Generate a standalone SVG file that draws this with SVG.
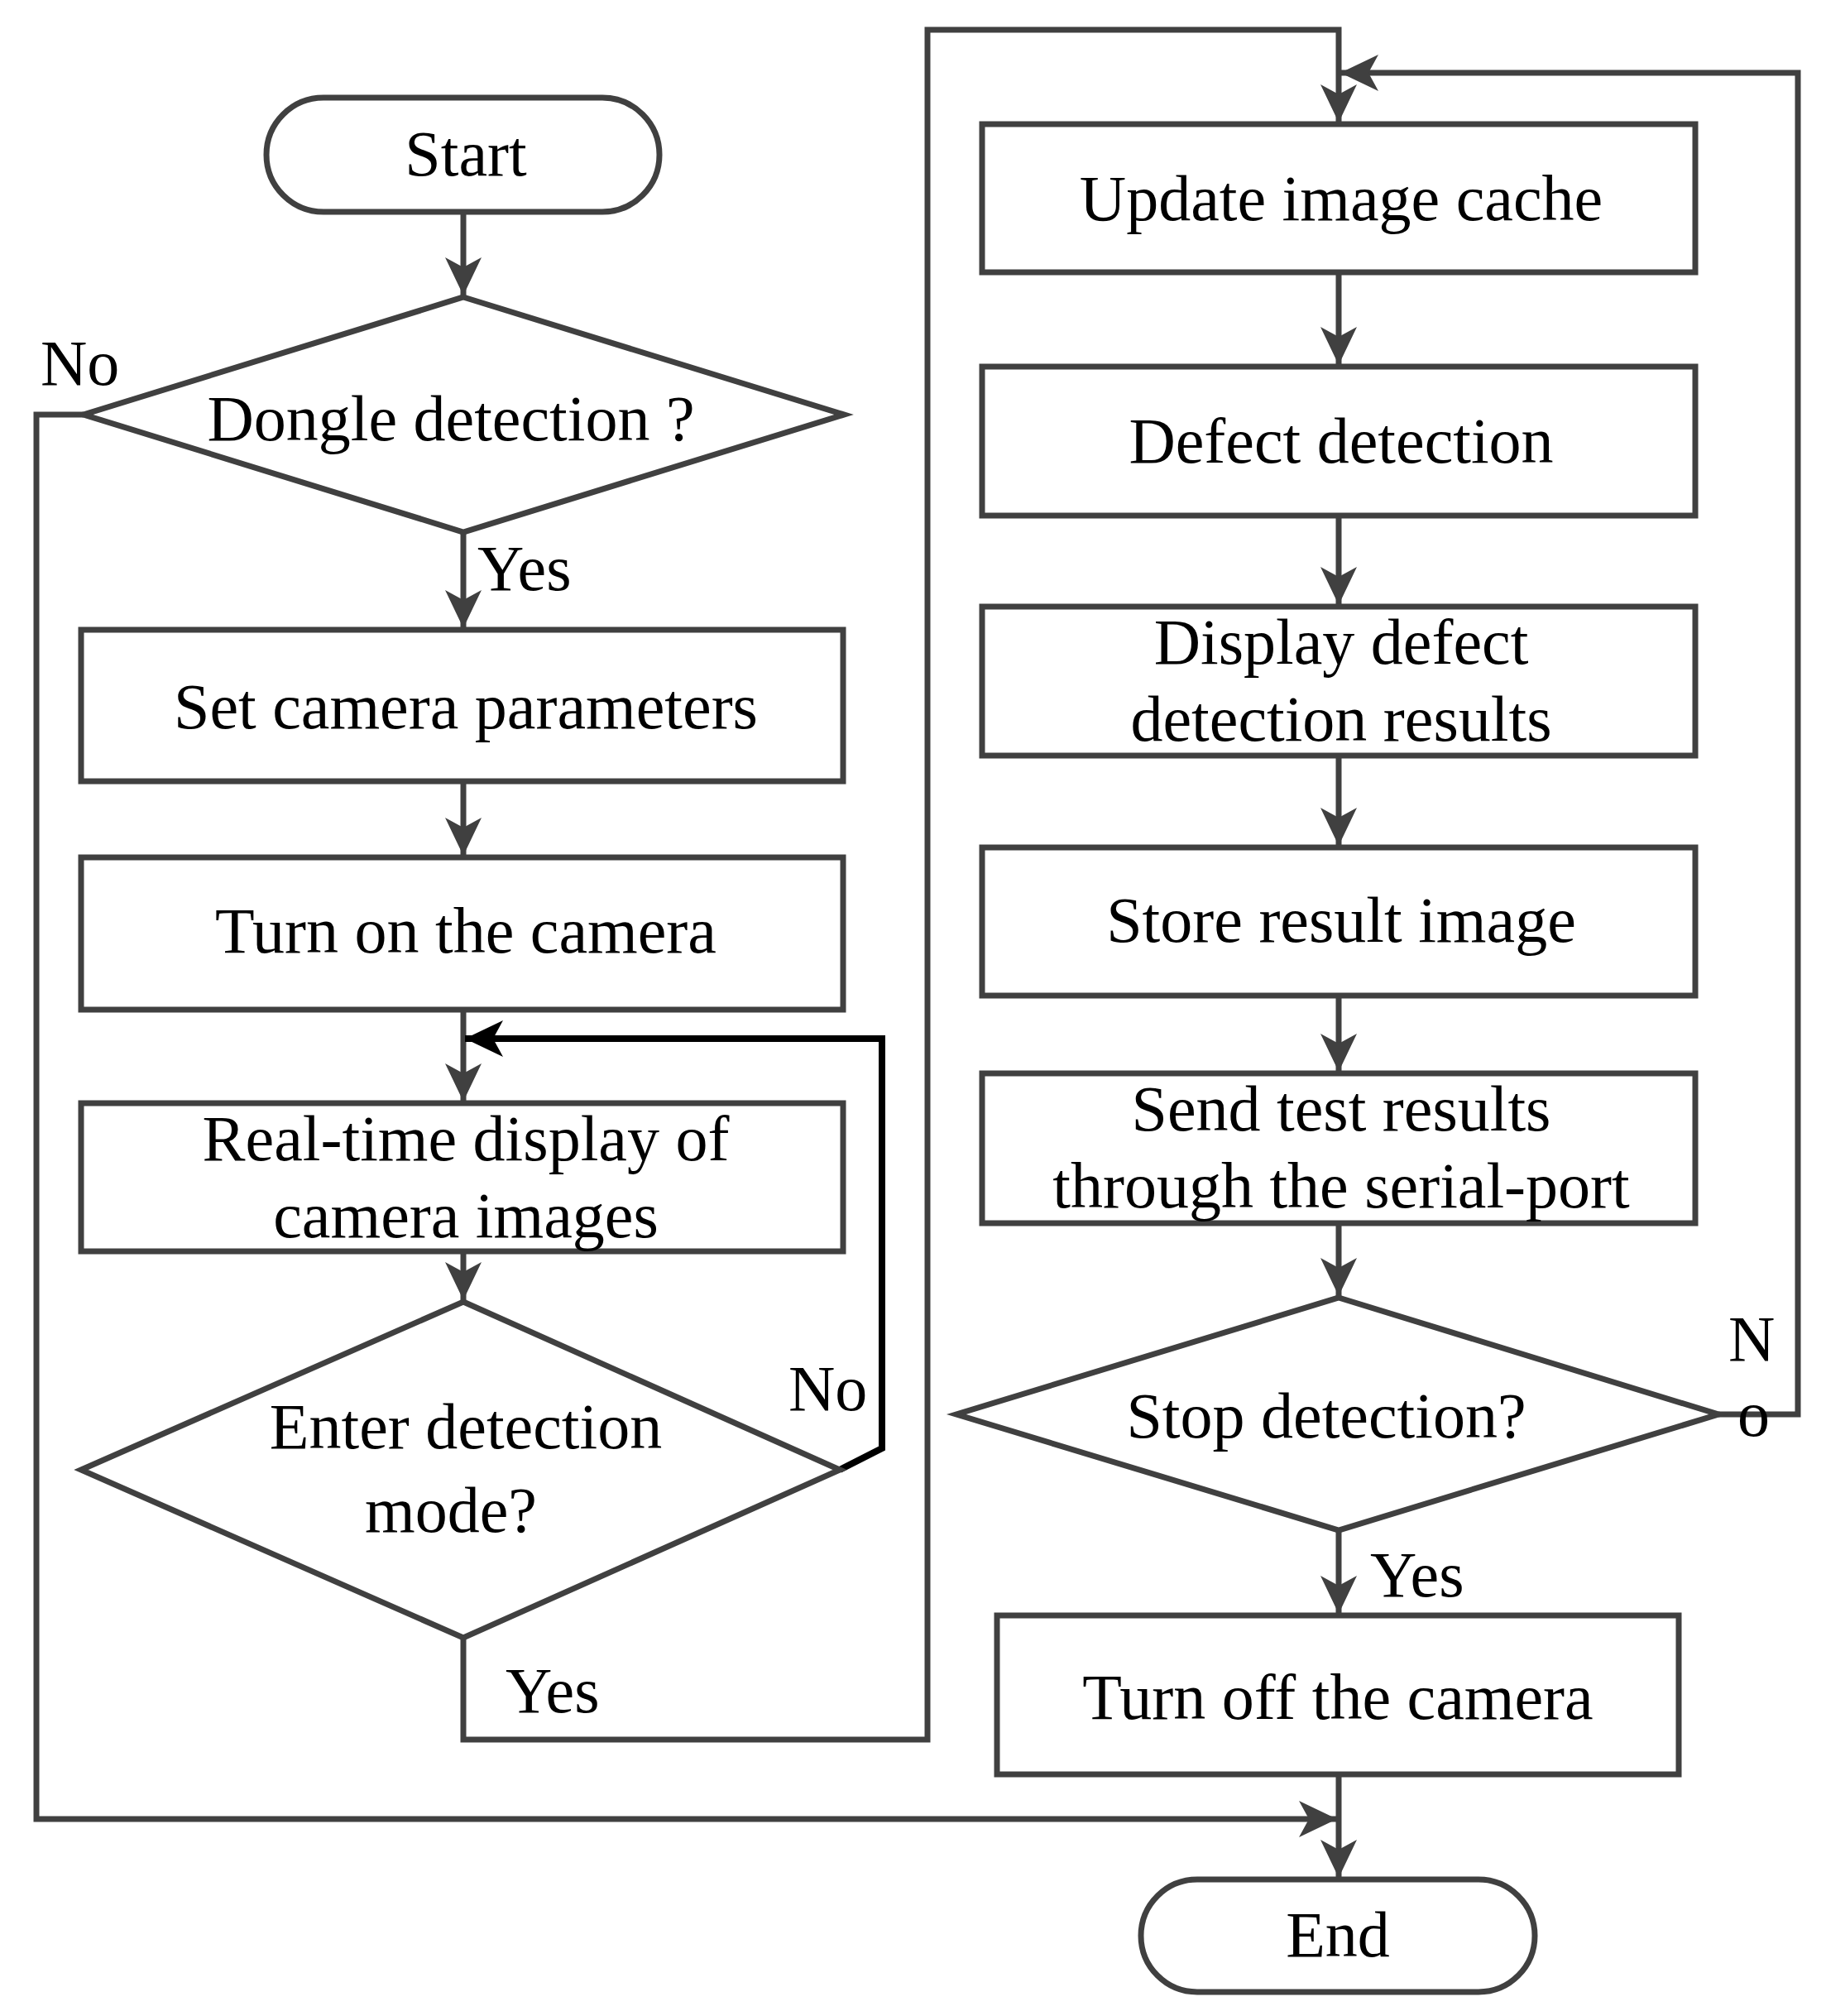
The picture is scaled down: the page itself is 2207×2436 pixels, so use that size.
<svg xmlns="http://www.w3.org/2000/svg" width="2207" height="2436" viewBox="0 0 2207 2436">
<style>
.s{fill:none;stroke:#404040;stroke-width:7;stroke-linejoin:miter}
.n{fill:#fff;stroke:#404040;stroke-width:7}
text{font-family:"Liberation Serif","DejaVu Serif",serif;font-size:78px;fill:#000}
.m{text-anchor:middle}
</style>
<defs>
<marker id="a" markerUnits="userSpaceOnUse" markerWidth="50" markerHeight="44" refX="46" refY="22" orient="auto"><path d="M0,0 L46,22 L0,44 L12,22 Z" fill="#404040"/></marker>
<marker id="b" markerUnits="userSpaceOnUse" markerWidth="50" markerHeight="44" refX="46" refY="22" orient="auto"><path d="M0,0 L46,22 L0,44 L12,22 Z" fill="#000"/></marker>
</defs>
<g id="connectors">
<line class="s" x1="560" y1="256" x2="560" y2="357" marker-end="url(#a)"/>
<line class="s" x1="560" y1="643" x2="560" y2="759" marker-end="url(#a)"/>
<line class="s" x1="560" y1="944" x2="560" y2="1034" marker-end="url(#a)"/>
<line class="s" x1="560" y1="1220" x2="560" y2="1331" marker-end="url(#a)"/>
<line class="s" x1="560" y1="1512" x2="560" y2="1571" marker-end="url(#a)"/>
<polyline points="1015,1776 1066,1750 1066,1255 562,1255" fill="none" stroke="#000" stroke-width="8" marker-end="url(#b)"/>
<polyline class="s" points="101,501 44,501 44,2198 1616,2198" marker-end="url(#a)"/>
<polyline class="s" points="560,1979 560,2102 1121,2102 1121,36 1618,36 1618,148" marker-end="url(#a)"/>
<line class="s" x1="1618" y1="329" x2="1618" y2="441" marker-end="url(#a)"/>
<line class="s" x1="1618" y1="623" x2="1618" y2="731" marker-end="url(#a)"/>
<line class="s" x1="1618" y1="913" x2="1618" y2="1022" marker-end="url(#a)"/>
<line class="s" x1="1618" y1="1203" x2="1618" y2="1295" marker-end="url(#a)"/>
<line class="s" x1="1618" y1="1478" x2="1618" y2="1566" marker-end="url(#a)"/>
<line class="s" x1="1618" y1="1849" x2="1618" y2="1950" marker-end="url(#a)"/>
<line class="s" x1="1618" y1="2144" x2="1618" y2="2269" marker-end="url(#a)"/>
<polyline class="s" points="2077,1709 2173,1709 2173,88 1620,88" marker-end="url(#a)"/>
</g>
<g id="start"><rect class="n" x="322" y="118" width="475" height="138" rx="69"/><text class="m" x="563" y="212">Start</text></g>
<g id="dongle"><polygon class="n" points="560,359 1020,501 560,643 101,501"/><text class="m" x="545" y="532">Dongle detection ?</text>
<text x="49" y="465">No</text><text x="577" y="713">Yes</text></g>
<g id="set"><rect class="n" x="98" y="761" width="921" height="183"/><text class="m" x="563" y="880">Set camera parameters</text></g>
<g id="turnon"><rect class="n" x="98" y="1036" width="921" height="184"/><text class="m" x="563" y="1151">Turn on the camera</text></g>
<g id="realtime"><rect class="n" x="98" y="1333" width="921" height="179"/><text class="m" x="563" y="1402">Real-time display of</text><text class="m" x="563" y="1495">camera images</text></g>
<g id="enter"><polygon class="n" points="560,1573 1015,1776 560,1979 98,1776"/><text class="m" x="563" y="1750">Enter  detection</text><text class="m" x="545" y="1851">mode?</text>
<text x="953" y="1704">No</text><text x="611" y="2069">Yes</text></g>
<g id="update"><rect class="n" x="1187" y="150" width="862" height="179"/><text class="m" x="1621" y="266">Update image cache</text></g>
<g id="defect"><rect class="n" x="1187" y="443" width="862" height="180"/><text class="m" x="1621" y="559">Defect detection</text></g>
<g id="display"><rect class="n" x="1187" y="733" width="862" height="180"/><text class="m" x="1621" y="802">Display defect</text><text class="m" x="1621" y="895">detection results</text></g>
<g id="store"><rect class="n" x="1187" y="1024" width="862" height="179"/><text class="m" x="1621" y="1138">Store result image</text></g>
<g id="send"><rect class="n" x="1187" y="1297" width="862" height="181"/><text class="m" x="1621" y="1366">Send test results</text><text class="m" x="1621" y="1459">through the serial-port</text></g>
<g id="stop"><polygon class="n" points="1618,1568 2077,1709 1618,1849 1156,1709"/><text class="m" x="1603" y="1737">Stop  detection?</text>
<text x="2089" y="1644">N</text><text x="2100" y="1735">o</text><text x="1656" y="1929">Yes</text></g>
<g id="turnoff"><rect class="n" x="1205" y="1952" width="824" height="192"/><text class="m" x="1617" y="2077">Turn off the camera</text></g>
<g id="end"><rect class="n" x="1379" y="2271" width="476" height="136" rx="68"/><text class="m" x="1617" y="2364">End</text></g>
</svg>
